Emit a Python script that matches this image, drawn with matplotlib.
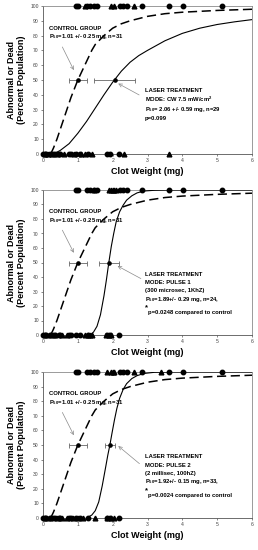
import matplotlib
matplotlib.use("Agg")
import matplotlib.pyplot as plt

plt.rcParams['font.family'] = ['Liberation Sans', 'DejaVu Sans']
plt.rcParams['mathtext.fontset'] = 'custom'
plt.rcParams['mathtext.rm'] = 'Liberation Sans:bold'
plt.rcParams['mathtext.bf'] = 'Liberation Sans:bold'
plt.rcParams['mathtext.it'] = 'Liberation Sans:bold'

# ---------------- data ----------------
# control group (circles), same in every panel
ctrl_dead_x = [0.95, 1.0, 1.25, 1.35, 1.45, 1.55, 2.2, 2.3, 2.4, 2.83, 3.63, 4.03, 5.15]
ctrl_ok_x = [0.0, 0.05, 0.1, 0.2, 0.3, 0.35, 0.45, 0.5, 0.75, 0.8, 0.95, 1.05, 1.3,
             1.85, 1.92, 2.18]

# laser groups (triangles)
p1_dead_x = [1.2, 1.95, 2.05, 2.62]
p1_ok_x = [0.05, 0.15, 0.25, 0.4, 0.6, 0.9, 1.1, 1.2, 1.4, 2.33, 3.63]
p2_dead_x = [1.45, 1.9, 1.95, 2.0, 2.05, 2.1]
p2_ok_x = [0.05, 0.2, 0.35, 0.55, 0.7, 1.2, 1.3, 1.35, 1.4, 1.8, 1.9, 1.95]
p3_dead_x = [1.85, 1.95, 2.0, 2.05, 2.62, 3.4]
p3_ok_x = [0.05, 0.2, 0.4, 0.55, 0.7, 0.85, 1.0, 1.15, 1.5, 1.85, 1.95, 2.05]

# fitted curves
ctrl_curve_x = [0.22, 0.3, 0.4, 0.5, 0.6, 0.7, 0.8, 0.9, 1.0, 1.1, 1.2, 1.3, 1.4, 1.5,
                1.75, 2.0, 2.25, 2.5, 3.0, 3.5, 4.0, 5.0, 6.0]
ctrl_curve_y = [0, 4, 10, 17, 24, 31, 38, 44, 50, 55, 60, 65, 70, 74,
                80, 85, 88, 90, 93, 94.8, 95.8, 97, 97.8]

p1_curve_x = [0.3, 0.5, 0.75, 1.0, 1.25, 1.5, 1.75, 2.0, 2.25, 2.5, 2.75, 3.0, 3.5,
              4.0, 4.5, 5.0, 5.5, 6.0]
p1_curve_y = [0, 2.5, 7, 14, 22, 31, 40, 48.5, 56, 62, 66.5, 70, 76.5,
              81.5, 85, 87.5, 89.3, 90.8]

p2_curve_x = [1.35, 1.45, 1.55, 1.65, 1.75, 1.82, 1.89, 1.96, 2.03, 2.1, 2.2, 2.3, 2.4,
              2.55, 2.7, 2.9, 3.2, 3.6, 4.0, 5.0, 6.0]
p2_curve_y = [0, 2, 6, 14, 27, 38, 50, 61, 70, 78, 85, 89.5, 93,
              96, 98, 99.3, 99.8, 100, 100, 100, 100]

p3_curve_x = [1.25, 1.4, 1.5, 1.6, 1.7, 1.8, 1.86, 1.92, 1.98, 2.05, 2.12, 2.2, 2.3,
              2.4, 2.55, 2.7, 2.9, 3.2, 3.6, 4.0, 6.0]
p3_curve_y = [0, 2, 5, 11, 22, 35, 43, 50, 58, 67, 75, 82, 88,
              92, 95.5, 97.5, 99, 99.8, 100, 100, 100]

ctrl_p50, ctrl_err = 1.01, 0.25
laser_p50 = [2.06, 1.89, 1.92]
laser_err = [0.59, 0.29, 0.15]

ctrl_text = ["CONTROL GROUP", r"P$_{50}$=1.01 +/- 0.25 mg, n=31"]
laser_texts = [
    ["LASER TREATMENT", r"MODE: CW 7.5 mW/cm$^{2}$",
     r"P$_{50}$= 2.06 +/- 0.59 mg, n=29", "p=0.099"],
    ["LASER TREATMENT", "MODE: PULSE 1", "(300 microsec, 1KhZ)",
     r"P$_{50}$=1.89+/- 0.29 mg, n=24,", "*p=0.0248 compared to control"],
    ["LASER TREATMENT", "MODE: PULSE 2", "(2 millisec, 100hZ)",
     r"P$_{50}$=1.92+/- 0.15 mg, n=33,", "*p=0.0024 compared to control"],
]

xticks = [0, 1, 2, 3, 4, 5, 6]
yticks = [0, 10, 20, 30, 40, 50, 60, 70, 80, 90, 100]

laser_dead = [p1_dead_x, p2_dead_x, p3_dead_x]
laser_ok = [p1_ok_x, p2_ok_x, p3_ok_x]
laser_cx = [p1_curve_x, p2_curve_x, p3_curve_x]
laser_cy = [p1_curve_y, p2_curve_y, p3_curve_y]

# ---------------- figure ----------------
W, H = 258, 550
fig = plt.figure(figsize=(W / 100, H / 100), dpi=100)

# (top px, bottom px) for each panel
panels = [(6, 154), (190, 335), (372, 518)]
left_px, right_px = 43, 252
# laser arrow (text end, point end) in data coords
laser_arrows = [((2.83, 39), (2.09, 48.5)),
                ((2.88, 38), (2.07, 48.5)),
                ((2.83, 36), (2.1, 50.5))]
laser_text_y = [[43, 37, 30, 24], [42, 36.5, 30.5, 24.8, 15.8], [42, 36.2, 30.5, 24.8, 15.5]]

gray = '#8a8a8a'
for i, (tp, bp) in enumerate(panels):
    ax = fig.add_axes([left_px / W, 1 - bp / H, (right_px - left_px) / W, (bp - tp) / H])
    ax.set_xlim(0, 6)
    ax.set_ylim(0, 100)
    for s in ax.spines.values():
        s.set_color(gray)
        s.set_linewidth(0.6)
    ax.spines['left'].set_color('#555555')
    ax.spines['bottom'].set_color('#555555')
    ax.set_xticks(xticks)
    ax.set_yticks(yticks)
    ax.tick_params(axis='both', labelsize=3.6, colors='#555555', length=1.5, width=0.5,
                   pad=1.5, direction='out')
    ax.tick_params(axis='both', labelcolor='#444444')

    # curves
    ax.plot(ctrl_curve_x, ctrl_curve_y, color='black', lw=1.1, ls=(0, (6, 3)), zorder=3)
    ax.plot(laser_cx[i], laser_cy[i], color='black', lw=0.8, zorder=3)

    # data markers
    ax.plot(ctrl_dead_x, [100] * len(ctrl_dead_x), 'o', color='black', ms=3.2,
            clip_on=False, zorder=5)
    ax.plot(ctrl_ok_x, [0] * len(ctrl_ok_x), 'o', color='black', ms=3.2,
            clip_on=False, zorder=5)
    ax.plot(laser_dead[i], [100] * len(laser_dead[i]), '^', color='black', ms=3.4,
            clip_on=False, zorder=5)
    ax.plot(laser_ok[i], [0] * len(laser_ok[i]), '^', color='black', ms=3.4,
            clip_on=False, zorder=5)

    # P50 with error bars
    ax.errorbar([ctrl_p50], [50], xerr=[ctrl_err], fmt='o', color='black', ms=2.3,
                ecolor='#666666', elinewidth=0.6, capsize=1.8, capthick=0.6, zorder=6)
    ax.errorbar([laser_p50[i]], [50], xerr=[laser_err[i]], fmt='o', color='black', ms=2.3,
                ecolor='#666666', elinewidth=0.6, capsize=1.8, capthick=0.6, zorder=6)

    # control annotation
    ax.text(0.17, 85, ctrl_text[0], fontsize=4.2, fontweight='bold', ha='left', va='center',
            zorder=7)
    ax.text(0.17, 79.3, ctrl_text[1], fontsize=4.2, fontweight='bold', ha='left',
            va='center', zorder=7)
    ax.annotate('', xy=(0.92, 55), xytext=(0.52, 74),
                arrowprops=dict(arrowstyle='->', color=gray, lw=0.5,
                                mutation_scale=6), zorder=7)

    # laser annotation
    for t, y in zip(laser_texts[i], laser_text_y[i]):
        if t.startswith('*'):
            ax.text(2.93, y + 3.2, '*', fontsize=5.5, fontweight='bold', ha='left',
                    va='center', zorder=7)
            ax.text(3.0, y, t[1:], fontsize=4.2, fontweight='bold', ha='left',
                    va='center', zorder=7)
        else:
            ax.text(2.93, y, t, fontsize=4.2, fontweight='bold', ha='left', va='center',
                    zorder=7)
    (tx, ty), (px, py) = laser_arrows[i]
    ax.annotate('', xy=(px, py), xytext=(tx, ty),
                arrowprops=dict(arrowstyle='->', color=gray, lw=0.5,
                                mutation_scale=6), zorder=7)

    ax.set_xlabel('Clot Weight (mg)', fontsize=6.5, fontweight='bold', labelpad=3)
    ax.set_ylabel('Abnormal or Dead\n(Percent Population)', fontsize=6.5,
                  fontweight='bold', labelpad=3, linespacing=1.1)

fig.savefig('out.png', dpi=100)
